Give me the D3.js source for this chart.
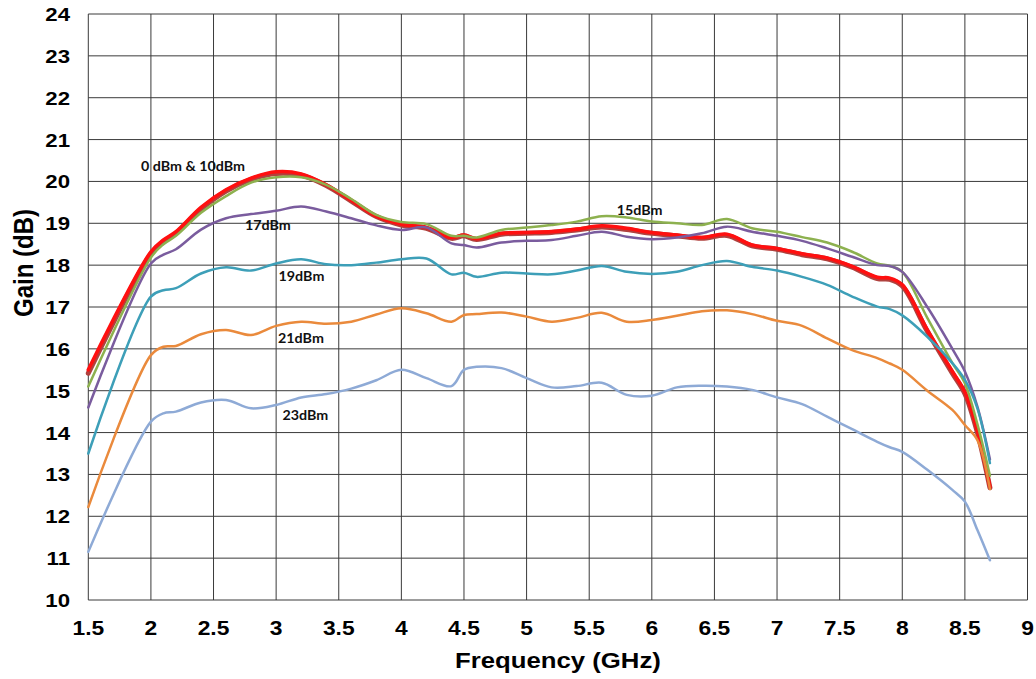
<!DOCTYPE html>
<html><head><meta charset="utf-8">
<script src="https://cdn.jsdelivr.net/npm/d3@7"></script>
<style>body{margin:0;background:#fff}svg{display:block}</style>
</head><body>
<svg id="chart" width="1036" height="679"></svg>
<script>
const freq = [1.5, 2.0, 2.1, 2.2, 2.4, 2.6, 2.8, 3.0, 3.2, 3.4, 3.6, 3.8, 4.0, 4.2, 4.4, 4.5, 4.6, 4.8, 5.0, 5.2, 5.4, 5.6, 5.8, 6.0, 6.2, 6.4, 6.6, 6.8, 7.0, 7.2, 7.4, 7.6, 7.8, 7.9, 8.0, 8.2, 8.4, 8.5, 8.6, 8.7];
const gain10dBm = [15.42, 18.27, 18.56, 18.76, 19.34, 19.77, 20.05, 20.19, 20.15, 19.9, 19.53, 19.16, 18.96, 18.88, 18.64, 18.7, 18.61, 18.74, 18.76, 18.78, 18.84, 18.91, 18.85, 18.76, 18.7, 18.64, 18.71, 18.46, 18.38, 18.25, 18.15, 17.95, 17.68, 17.66, 17.5, 16.42, 15.42, 14.93, 14.0, 12.68];
const gain0dBm  = [15.5, 18.32, 18.6, 18.8, 19.38, 19.8, 20.08, 20.23, 20.18, 19.92, 19.55, 19.17, 18.98, 18.9, 18.66, 18.72, 18.63, 18.76, 18.78, 18.8, 18.86, 18.94, 18.88, 18.78, 18.72, 18.66, 18.74, 18.48, 18.4, 18.27, 18.17, 17.97, 17.71, 17.69, 17.53, 16.45, 15.46, 14.97, 14.05, 12.7];
const gain15dBm = [15.1, 18.18, 18.5, 18.7, 19.25, 19.65, 19.97, 20.1, 20.1, 19.92, 19.58, 19.2, 19.03, 18.98, 18.7, 18.7, 18.66, 18.84, 18.9, 18.96, 19.04, 19.17, 19.14, 19.04, 19.0, 18.96, 19.1, 18.88, 18.8, 18.67, 18.54, 18.32, 18.04, 17.98, 17.84, 16.74, 15.66, 15.18, 14.2, 12.97];
const gain17dBm = [14.6, 18.04, 18.25, 18.38, 18.85, 19.12, 19.22, 19.3, 19.4, 19.28, 19.12, 18.95, 18.84, 18.9, 18.52, 18.48, 18.42, 18.54, 18.58, 18.6, 18.7, 18.8, 18.68, 18.62, 18.66, 18.76, 18.92, 18.8, 18.7, 18.58, 18.4, 18.2, 18.0, 17.98, 17.84, 17.0, 16.0, 15.46, 14.62, 13.36];
const gain19dBm = [13.5, 17.25, 17.4, 17.45, 17.8, 17.95, 17.87, 18.04, 18.14, 18.02, 18.0, 18.06, 18.14, 18.16, 17.78, 17.82, 17.72, 17.82, 17.8, 17.78, 17.87, 17.98, 17.84, 17.79, 17.84, 18.0, 18.1, 17.96, 17.87, 17.72, 17.53, 17.25, 17.01, 16.95, 16.8, 16.29, 15.66, 15.26, 14.58, 13.27];
const gain21dBm = [12.22, 15.85, 16.05, 16.07, 16.35, 16.45, 16.33, 16.55, 16.65, 16.6, 16.65, 16.82, 16.97, 16.85, 16.65, 16.81, 16.83, 16.87, 16.77, 16.65, 16.74, 16.86, 16.65, 16.69, 16.79, 16.9, 16.92, 16.83, 16.67, 16.55, 16.25, 15.97, 15.78, 15.65, 15.5, 15.0, 14.54, 14.18, 13.82, 12.65];
const gain23dBm = [11.15, 14.26, 14.46, 14.5, 14.72, 14.78, 14.58, 14.66, 14.84, 14.92, 15.05, 15.25, 15.5, 15.3, 15.11, 15.5, 15.57, 15.54, 15.3, 15.08, 15.11, 15.19, 14.9, 14.88, 15.08, 15.12, 15.1, 15.02, 14.84, 14.68, 14.38, 14.08, 13.78, 13.65, 13.54, 13.11, 12.63, 12.35, 11.67, 10.95];
const xTicks = [1.5, 2, 2.5, 3, 3.5, 4, 4.5, 5, 5.5, 6, 6.5, 7, 7.5, 8, 8.5, 9];
const yTicks = [10, 11, 12, 13, 14, 15, 16, 17, 18, 19, 20, 21, 22, 23, 24];
const seriesNames = ["10dBm", "0dBm", "15dBm", "17dBm", "19dBm", "21dBm", "23dBm"];
const seriesValues = [gain10dBm, gain0dBm, gain15dBm, gain17dBm, gain19dBm, gain21dBm, gain23dBm];
const seriesColors = ["#b0413e", "#ff1010", "#8db14f", "#7a5c9e", "#3d9fb8", "#ea8a3c", "#8eaad6"];
const seriesWidths = [5, 3.6, 2.5, 2.5, 2.5, 2.5, 2.5];
const labelTexts = ["0 dBm & 10dBm", "15dBm", "17dBm", "19dBm", "21dBm", "23dBm"];
const labelFreq = [2.336, 5.903, 2.934, 3.202, 3.198, 3.233];
const labelGain = [20.25, 19.2, 18.84, 17.63, 16.14, 14.29];

const svg = d3.select("#chart");
const L = 88.3, R = 1027.5, T = 14, B = 600;
const x = d3.scaleLinear().domain([1.5, 9]).range([L, R]);
const y = d3.scaleLinear().domain([10, 24]).range([B, T]);
const SX = 1.17;

// grid
svg.append("g").selectAll("line").data(yTicks).join("line")
  .attr("x1", L).attr("x2", R).attr("y1", d => y(d)).attr("y2", d => y(d))
  .attr("stroke", "#3a3a3a").attr("stroke-width", 1);
svg.append("g").selectAll("line").data(xTicks).join("line")
  .attr("y1", T).attr("y2", B).attr("x1", d => x(d)).attr("x2", d => x(d))
  .attr("stroke", "#3a3a3a").attr("stroke-width", 1);

// tick labels
svg.append("g").selectAll("text").data(yTicks).join("text")
  .attr("transform", d => `translate(70,${y(d) + 7}) scale(${SX},1)`)
  .attr("text-anchor", "end")
  .attr("font-family", "Liberation Sans, Arial, sans-serif")
  .attr("font-weight", "bold").attr("font-size", 19).attr("fill", "#000")
  .text(d => d);
svg.append("g").selectAll("text").data(xTicks).join("text")
  .attr("transform", d => `translate(${x(d)},635) scale(${SX},1)`)
  .attr("text-anchor", "middle")
  .attr("font-family", "Liberation Sans, Arial, sans-serif")
  .attr("font-weight", "bold").attr("font-size", 19.5).attr("fill", "#000")
  .text(d => d);

// axis titles
svg.append("text")
  .attr("transform", `translate(${(L + R) / 2},668) scale(${SX},1)`)
  .attr("text-anchor", "middle")
  .attr("font-family", "Liberation Sans, Arial, sans-serif")
  .attr("font-weight", "bold").attr("font-size", 22).attr("fill", "#000")
  .text("Frequency (GHz)");
svg.append("text")
  .attr("transform", `translate(33,263) scale(${SX},1) rotate(-90)`)
  .attr("text-anchor", "middle")
  .attr("font-family", "Liberation Sans, Arial, sans-serif")
  .attr("font-weight", "bold").attr("font-size", 24).attr("fill", "#000")
  .text("Gain (dB)");

// lines
const line = d3.line().x(d => x(d[0])).y(d => y(d[1])).curve(d3.curveCatmullRom.alpha(0.5));
svg.append("g").selectAll("path").data(seriesValues).join("path")
  .attr("d", vals => line(freq.map((f, i) => [f, vals[i]])))
  .attr("fill", "none")
  .attr("stroke", (d, i) => seriesColors[i])
  .attr("stroke-width", (d, i) => seriesWidths[i])
  .attr("stroke-linejoin", "round").attr("stroke-linecap", "round");

// series labels
svg.append("g").selectAll("text").data(labelTexts).join("text")
  .attr("transform", (d, i) => `translate(${x(labelFreq[i])},${y(labelGain[i])}) scale(1.1,1)`)
  .attr("text-anchor", "middle")
  .attr("font-family", "Lato, 'Open Sans', sans-serif")
  .attr("font-weight", "bold").attr("font-size", 13).attr("fill", "#111")
  .text(d => d);
</script>
</body></html>
